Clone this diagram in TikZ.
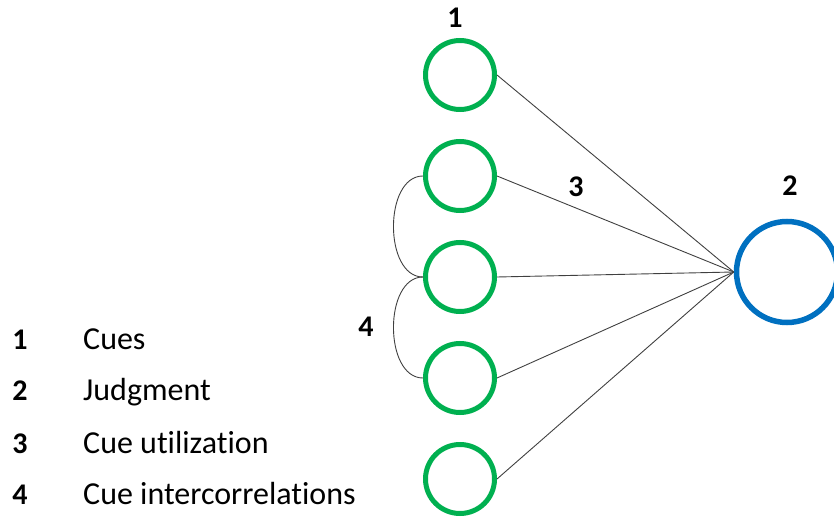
\documentclass[tikz,border=0pt]{standalone}
\usepackage{fontspec}
\setmainfont[Ligatures=NoCommon]{Carlito}
\usetikzlibrary{positioning}
\definecolor{cuegreen}{HTML}{00B050}
\definecolor{judgblue}{HTML}{0070C0}
\tikzset{
  cue/.style={draw=cuegreen, circle, line width=5pt, minimum size=69pt, inner sep=0pt},
  judg/.style={draw=judgblue, circle, line width=5.5pt, minimum size=101pt, inner sep=0pt},
  link/.style={draw=black!75, line width=0.9pt},
  num/.style={font=\fontsize{30}{34}\selectfont\bfseries, inner sep=0pt},
  keytext/.style={font=\fontsize{32}{38}\selectfont, inner sep=0pt, anchor=base west}
}
\begin{document}
\begin{tikzpicture}[x=1pt, y=-1pt, node distance=101pt]
\useasboundingbox (0,0) rectangle (834,518);
\node  (c1)[cue] at (460,75) {};
\node  (c2)[cue] [below of = c1] {};
\node  (c3)[cue] [below of = c2] {};
\node  (c4)[cue] [below of = c3] {};
\node  (c5)[cue] [below of = c4] {};
\node  (j)[judg] at (787,272) {};
\draw[link] (c1.east) -- (j.west);
\draw[link] (c2.east) -- (j.west);
\draw[link] (c3.east) -- (j.west);
\draw[link] (c4.east) -- (j.west);
\draw[link] (c5.east) -- (j.west);
\draw[link] (c2.west) to[out=180, in=180] (c3.west);
\draw[link] (c3.west) to[out=180, in=180] (c4.west);
\node  (l1)[num] at (455,18) {1};
\node  (l2)[num] at (790,186) {2};
\node  (l3)[num] at (576,187) {3};
\node  (l4)[num] at (366,327) {4};
% legend
\node  (k1)[num, anchor=base] at (20,349) {1};
\node  (k2)[num, anchor=base] at (20,400) {2};
\node  (k3)[num, anchor=base] at (20,453) {3};
\node  (k4)[num, anchor=base] at (20,504) {4};
\node  (t1)[keytext] at (83,349) {Cues};
\node  (t2)[keytext] at (83,400) {Judgment};
\node  (t3)[keytext] at (83,453) {Cue utilization};
\node  (t4)[keytext] at (83,504) {Cue intercorrelations};
\end{tikzpicture}
\end{document}
